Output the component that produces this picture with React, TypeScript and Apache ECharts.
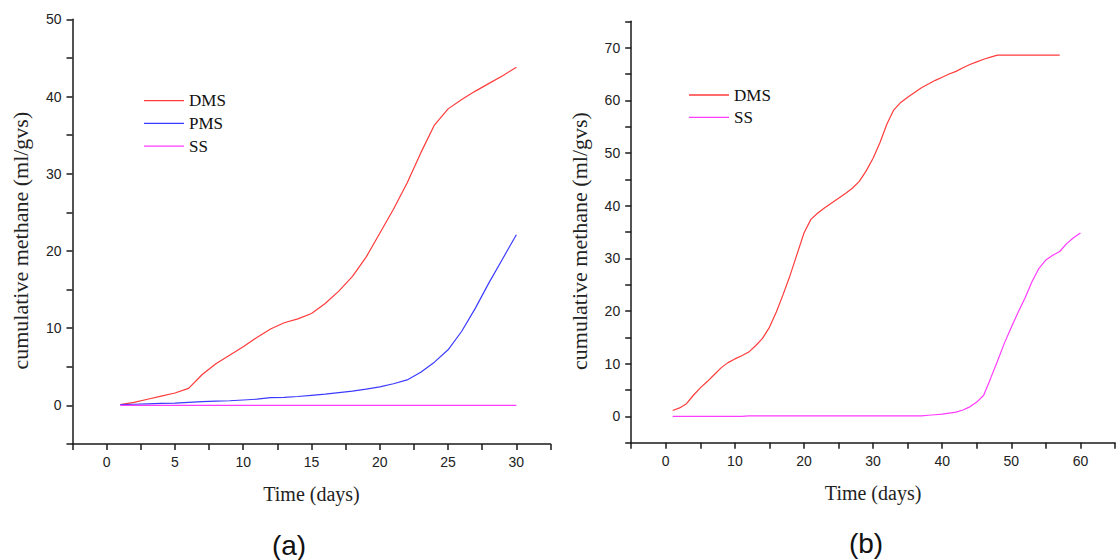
import React, { useEffect, useRef } from "react";
import * as echarts from "echarts";

// ---- Panel (a) data ----
const daysA = [1, 2, 3, 4, 5, 6, 7, 8, 9, 10, 11, 12, 13, 14, 15, 16, 17, 18, 19, 20, 21, 22, 23, 24, 25, 26, 27, 28, 29, 30];
const dmsA = [0.1, 0.4, 0.8, 1.2, 1.6, 2.2, 4.0, 5.4, 6.5, 7.6, 8.8, 9.9, 10.7, 11.2, 11.9, 13.2, 14.8, 16.7, 19.2, 22.3, 25.4, 28.8, 32.7, 36.3, 38.4, 39.6, 40.7, 41.7, 42.7, 43.8];
const pmsA = [0.1, 0.15, 0.2, 0.25, 0.3, 0.4, 0.5, 0.55, 0.6, 0.7, 0.8, 1.0, 1.05, 1.15, 1.3, 1.45, 1.65, 1.85, 2.1, 2.4, 2.8, 3.3, 4.3, 5.6, 7.2, 9.6, 12.6, 15.9, 19.0, 22.1];
const ssA = [0, 0, 0, 0, 0, 0, 0, 0, 0, 0, 0, 0, 0, 0, 0, 0, 0, 0, 0, 0, 0, 0, 0, 0, 0, 0, 0, 0, 0, 0];

// ---- Panel (b) data ----
const daysB = [1, 2, 3, 4, 5, 6, 7, 8, 9, 10, 11, 12, 13, 14, 15, 16, 17, 18, 19, 20, 21, 22, 23, 24, 25, 26, 27, 28, 29, 30, 31, 32, 33, 34, 35, 36, 37, 38, 39, 40, 41, 42, 43, 44, 45, 46, 47, 48, 49, 50, 51, 52, 53, 54, 55, 56, 57, 58, 59, 60];
const dmsB = [1.1, 1.6, 2.4, 4.0, 5.4, 6.6, 7.9, 9.2, 10.2, 10.9, 11.5, 12.2, 13.4, 14.8, 16.9, 19.8, 23.2, 26.8, 30.8, 34.8, 37.4, 38.6, 39.6, 40.5, 41.4, 42.3, 43.3, 44.6, 46.6, 49.0, 52.0, 55.5, 58.2, 59.6, 60.6, 61.5, 62.4, 63.1, 63.8, 64.4, 65.0, 65.5, 66.2, 66.8, 67.3, 67.8, 68.2, 68.6, 68.6, 68.6, 68.6, 68.6, 68.6, 68.6, 68.6, 68.6, 68.6];
const ssB = [0, 0, 0, 0, 0, 0, 0, 0, 0, 0, 0, 0.1, 0.1, 0.1, 0.1, 0.1, 0.1, 0.1, 0.1, 0.1, 0.1, 0.1, 0.1, 0.1, 0.1, 0.1, 0.1, 0.1, 0.1, 0.1, 0.1, 0.1, 0.1, 0.1, 0.1, 0.1, 0.1, 0.2, 0.3, 0.4, 0.6, 0.8, 1.2, 1.8, 2.7, 4.0, 7.2, 10.5, 13.9, 16.9, 19.8, 22.5, 25.6, 28.1, 29.7, 30.6, 31.3, 32.8, 33.9, 34.8];

const legendA = ["DMS", "PMS", "SS"];
const legendB = ["DMS", "SS"];
const panelLabels = ["(a)", "(b)"];

const RED = "#ff3b3b";
const BLUE = "#3b3bff";
const MAGENTA = "#ff3bff";

const SANS = "Liberation Sans";
const SERIF = "Liberation Serif";
const AXIS_COLOR = "#1a1a1a";

function pairs(xs: number[], ys: number[]) {
  return ys.map((y, i) => [xs[i], y]);
}

function xAxisCfg(gridIndex: number, min: number, max: number, interval: number, labelStep: number) {
  return {
    type: "value",
    gridIndex,
    min,
    max,
    interval,
    name: "Time (days)",
    nameLocation: "middle",
    nameGap: 40,
    nameTextStyle: { fontFamily: SERIF, fontSize: 20, color: "#222" },
    splitLine: { show: false },
    axisLine: { onZero: false, lineStyle: { color: AXIS_COLOR, width: 1.5 } },
    axisTick: { length: 6, lineStyle: { color: AXIS_COLOR, width: 1.5 } },
    axisLabel: {
      margin: 11,
      fontFamily: SANS,
      fontSize: 14,
      color: "#222",
      showMinLabel: true,
      showMaxLabel: true,
      formatter: (v: number) => (Math.abs(v / labelStep - Math.round(v / labelStep)) < 1e-6 && v >= 0 ? String(v) : ""),
    },
  };
}

function yAxisCfg(gridIndex: number, min: number, max: number) {
  return {
    type: "value",
    gridIndex,
    min,
    max,
    interval: 5,
    name: "cumulative methane (ml/gvs)",
    nameLocation: "middle",
    nameGap: 41,
    nameTextStyle: { fontFamily: SERIF, fontSize: 22, color: "#222", padding: [0, 18, 0, 0] },
    splitLine: { show: false },
    axisLine: { onZero: false, lineStyle: { color: AXIS_COLOR, width: 1.5 } },
    axisTick: { length: 6, lineStyle: { color: AXIS_COLOR, width: 1.5 } },
    axisLabel: {
      margin: 11,
      fontFamily: SANS,
      fontSize: 14,
      color: "#222",
      formatter: (v: number) => (v % 10 === 0 && v >= 0 ? String(v) : ""),
    },
  };
}

function lineSeries(name: string, data: number[][], color: string, idx: number) {
  return {
    type: "line",
    name,
    data,
    xAxisIndex: idx,
    yAxisIndex: idx,
    symbol: "none",
    smooth: false,
    lineStyle: { color, width: 1.2 },
    itemStyle: { color },
  };
}

function legendCfg(data: string[], left: number, top: number, gap: number) {
  return {
    data,
    orient: "vertical",
    left,
    top,
    padding: 0,
    icon: "rect",
    itemWidth: 40,
    itemHeight: 1.3,
    itemGap: gap,
    selectedMode: false,
    textStyle: { fontFamily: SERIF, fontSize: 17, color: "#111", lineHeight: 20 },
  };
}

export default function App() {
  const ref = useRef<HTMLDivElement>(null);

  useEffect(() => {
    document.body.style.margin = "0";
    const chart = echarts.init(ref.current!, undefined, { renderer: "svg" });
    chart.setOption({
      animation: false,
      backgroundColor: "#ffffff",
      grid: [
        { left: 72.5, top: 19.3, width: 478, height: 424.7 },
        { left: 631.2, top: 21.35, width: 498, height: 421.3 },
      ],
      xAxis: [xAxisCfg(0, -2.5, 32.5, 2.5, 5), xAxisCfg(1, -5, 65, 5, 10)],
      yAxis: [yAxisCfg(0, -5, 50), yAxisCfg(1, -5, 75)],
      legend: [legendCfg(legendA, 144, 90.7, 2.7), legendCfg(legendB, 689, 85, 2.3)],
      graphic: [
        {
          type: "text",
          x: 289,
          y: 545,
          style: { text: panelLabels[0], fontFamily: SANS, fontSize: 28, fill: "#111", align: "center", verticalAlign: "middle" },
        },
        {
          type: "text",
          x: 866,
          y: 543,
          style: { text: panelLabels[1], fontFamily: SANS, fontSize: 28, fill: "#111", align: "center", verticalAlign: "middle" },
        },
      ],
      series: [
        lineSeries("DMS", pairs(daysA, dmsA), RED, 0),
        lineSeries("PMS", pairs(daysA, pmsA), BLUE, 0),
        lineSeries("SS", pairs(daysA, ssA), MAGENTA, 0),
        lineSeries("DMS", pairs(daysB, dmsB), RED, 1),
        lineSeries("SS", pairs(daysB, ssB), MAGENTA, 1),
      ],
    });
    return () => chart.dispose();
  }, []);

  return <div ref={ref} style={{ position: "absolute", left: 0, top: 0, width: 1118, height: 560 }} />;
}
